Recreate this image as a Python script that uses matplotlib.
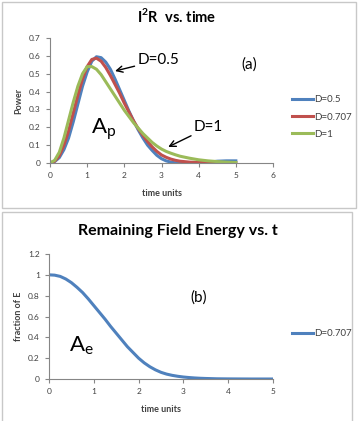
import matplotlib
matplotlib.use("Agg")
import matplotlib.pyplot as plt
from matplotlib.patches import Rectangle

# ---- data ----
t = [0, 0.125, 0.25, 0.375, 0.5, 0.625, 0.75, 0.875, 1.0, 1.125, 1.25, 1.375,
     1.5, 1.625, 1.75, 1.875, 2.0, 2.125, 2.25, 2.375, 2.5, 2.625, 2.75, 2.875,
     3.0, 3.125, 3.25, 3.375, 3.5, 3.75, 4.0, 4.25, 4.5, 4.75, 5.0]
p_d05 = [0, 0.008, 0.03, 0.075, 0.14, 0.23, 0.33, 0.43, 0.51, 0.57, 0.595, 0.59,
         0.565, 0.525, 0.47, 0.41, 0.35, 0.29, 0.235, 0.185, 0.14, 0.10, 0.07, 0.043,
         0.024, 0.012, 0.005, 0.001, 0.0, 0.0, 0.0, 0.003, 0.01, 0.012, 0.012]
p_d0707 = [0, 0.01, 0.04, 0.10, 0.18, 0.28, 0.38, 0.47, 0.54, 0.58, 0.587, 0.57,
           0.535, 0.49, 0.44, 0.39, 0.335, 0.285, 0.235, 0.192, 0.155, 0.12, 0.09, 0.065,
           0.045, 0.032, 0.022, 0.015, 0.01, 0.005, 0.003, 0.002, 0.001, 0.0, 0.0]
p_d1 = [0, 0.015, 0.06, 0.14, 0.24, 0.34, 0.43, 0.50, 0.54, 0.54, 0.525, 0.495,
        0.455, 0.415, 0.375, 0.335, 0.295, 0.26, 0.225, 0.195, 0.165, 0.14, 0.115, 0.095,
        0.078, 0.065, 0.055, 0.046, 0.038, 0.027, 0.018, 0.012, 0.008, 0.005, 0.003]

e_d0707 = [1.0, 0.997, 0.985, 0.96, 0.925, 0.88, 0.83, 0.77, 0.705, 0.64, 0.575, 0.505,
           0.44, 0.375, 0.31, 0.255, 0.2, 0.155, 0.118, 0.088, 0.064, 0.047, 0.035, 0.026,
           0.019, 0.014, 0.01, 0.007, 0.005, 0.002, 0.001, 0.0005, 0.0, 0.0, 0.0]

top_xticks = [0, 1, 2, 3, 4, 5, 6]
top_yticks = [0, 0.1, 0.2, 0.3, 0.4, 0.5, 0.6, 0.7]
bot_xticks = [0, 1, 2, 3, 4, 5]
bot_yticks = [0, 0.2, 0.4, 0.6, 0.8, 1, 1.2]

BLUE = '#4F81BD'
RED = '#C0504D'
GREEN = '#9BBB59'
AXC = '#868686'
TXT = '#404040'

plt.rcParams['font.family'] = ['Lato', 'DejaVu Sans']

fig = plt.figure(figsize=(3.6, 4.21), dpi=100)
fig.patch.set_facecolor('white')

# chart borders
fig.patches.append(Rectangle((2/360, 1 - 208/421), 354/360, 206/421, transform=fig.transFigure,
                             fill=False, edgecolor='#C8C8C8', linewidth=1))
fig.patches.append(Rectangle((2/360, -0.01), 350/360, 1 - 212/421 + 0.01, transform=fig.transFigure,
                             fill=False, edgecolor='#C8C8C8', linewidth=1))


def style(ax):
    for s in ['top', 'right']:
        ax.spines[s].set_visible(False)
    for s in ['left', 'bottom']:
        ax.spines[s].set_color(AXC)
        ax.spines[s].set_linewidth(0.8)
    ax.tick_params(axis='both', colors=AXC, labelcolor=TXT, labelsize=6, length=3, width=0.8, direction='out')


def fmt(v):
    return '%g' % v


# ---- top chart ----
ax1 = fig.add_axes([50/360, 1 - 163/421, 223/360, 125/421])
ax1.plot(t, p_d05, color=BLUE, lw=2.2, label='D=0.5')
ax1.plot(t, p_d0707, color=RED, lw=2.2, label='D=0.707')
ax1.plot(t, p_d1, color=GREEN, lw=2.2, label='D=1')
ax1.set_xlim(0, 6)
ax1.set_ylim(0, 0.7)
ax1.set_xticks(top_xticks)
ax1.set_xticklabels([fmt(v) for v in top_xticks])
ax1.set_yticks(top_yticks)
ax1.set_yticklabels([fmt(v) for v in top_yticks])
style(ax1)
ax1.set_ylabel('Power', fontsize=6.5, fontweight='bold', color=TXT, labelpad=4)
ax1.set_xlabel('time units', fontsize=6.5, fontweight='bold', color=TXT, labelpad=7)

ax1.annotate('D=0.5', xy=(1.75, 0.515), xytext=(2.35, 0.575), fontsize=11, color='black',
             va='center', ha='left',
             arrowprops=dict(arrowstyle='->', color='black', lw=1, shrinkA=0, shrinkB=0))
ax1.annotate('D=1', xy=(3.18, 0.09), xytext=(3.87, 0.2), fontsize=11, color='black',
             va='center', ha='left',
             arrowprops=dict(arrowstyle='->', color='black', lw=1, shrinkA=0, shrinkB=0))
ax1.text(5.35, 0.55, '(a)', fontsize=11, ha='center', va='center')
ax1.text(1.1, 0.19, r'A$_\mathregular{p}$', fontsize=16, ha='left', va='center')

leg1 = ax1.legend(loc='center left', bbox_to_anchor=(288/360, 1 - 117/421), bbox_transform=fig.transFigure,
                  frameon=False, fontsize=7, handlelength=2.2, handletextpad=0.1, labelspacing=0.85,
                  borderaxespad=0)
for txt in leg1.get_texts():
    txt.set_color(TXT)

fig.text(177/360, 1 - 16/421, r'I$^\mathregular{2}$R  vs. time', fontsize=10.5, fontweight='bold',
         ha='center', va='center')

# ---- bottom chart ----
ax2 = fig.add_axes([49/360, 1 - 379/421, 224/360, 125/421])
ax2.plot(t, e_d0707, color=BLUE, lw=2.2, label='D=0.707')
ax2.set_xlim(0, 5)
ax2.set_ylim(0, 1.2)
ax2.set_xticks(bot_xticks)
ax2.set_xticklabels([fmt(v) for v in bot_xticks])
ax2.set_yticks(bot_yticks)
ax2.set_yticklabels([fmt(v) for v in bot_yticks])
style(ax2)
ax2.set_ylabel('fraction of E', fontsize=6.5, fontweight='bold', color=TXT, labelpad=4)
ax2.set_xlabel('time units', fontsize=6.5, fontweight='bold', color=TXT, labelpad=7)
ax2.text(3.35, 0.78, '(b)', fontsize=11, ha='center', va='center')
ax2.text(0.45, 0.32, r'A$_\mathregular{e}$', fontsize=16, ha='left', va='center')

leg2 = ax2.legend(loc='center left', bbox_to_anchor=(288/360, 1 - 334/421), bbox_transform=fig.transFigure,
                  frameon=False, fontsize=7, handlelength=2.2, handletextpad=0.1, borderaxespad=0)
for txt in leg2.get_texts():
    txt.set_color(TXT)

fig.text(178/360, 1 - 231/421, 'Remaining Field Energy vs. t', fontsize=11.5, fontweight='bold',
         ha='center', va='center')

fig.savefig('out.png', dpi=100)
